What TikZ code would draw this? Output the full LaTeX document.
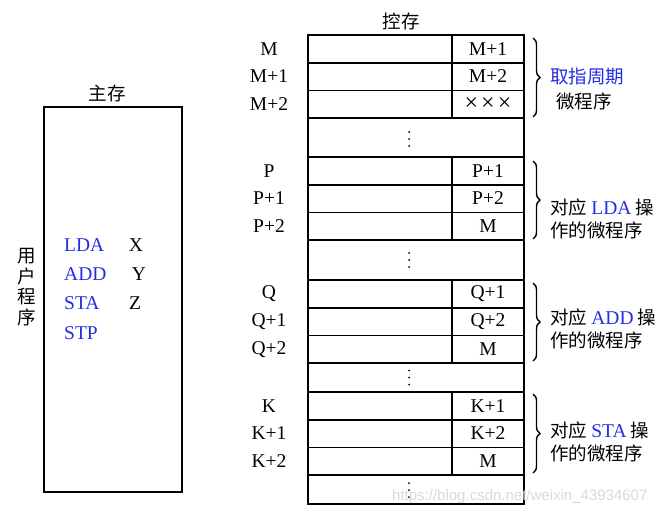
\documentclass[tikz,border=0pt]{standalone}
\usepackage{fontspec}
\setmainfont{Liberation Serif}
\newfontfamily\cjk{Noto Sans CJK SC}
\newfontfamily\wmfont{Liberation Sans}
\usetikzlibrary{decorations.pathreplacing}
\definecolor{ablue}{RGB}{35,45,225}
\begin{document}
\begin{tikzpicture}[x=1pt,y=-1pt,
  box/.style={line width=1.8pt},
  lab/.style={font=\fontsize{19.5}{21}\selectfont, inner sep=0pt},
  zh/.style={font=\cjk\fontsize{18.5}{20}\selectfont, inner sep=0pt},
  brc/.style={decorate, decoration={brace, amplitude=7pt}, line width=1.4pt},
  op/.style={lab, text=ablue, anchor=west},
  dotf/.style={fill=black, draw=none}
]
\useasboundingbox (0,0) rectangle (672,514);
% main memory
\draw[box] (44,107) rectangle (182,492);
\node[zh] (zhucun) at (107,93) {主存};
\node[zh, align=center, font=\cjk\fontsize{18.5}{20.5}\selectfont] (yhcx) at (27,287) {用\\户\\程\\序};
\node[op] (lda) at (64,245) {LDA};
\node[op] (add) at (64,274) {ADD};
\node[op] (sta) at (64,303) {STA};
\node[op] (stp) at (64,333) {STP};
\node[lab] (x) at (136,245) {X};
\node[lab] (y) at (139,274) {Y};
\node[lab] (z) at (135,303) {Z};
% control memory
\node[zh] (kongcun) at (401,21) {控存};
\draw[box] (308,35) rectangle (524,504);
\foreach \bl/\t/\ra/\rb/\rc in {M/35/M+1/M+2/{{\fontsize{24}{24}\selectfont×\kern3pt×\kern3pt×}}, P/157/P+1/P+2/M, Q/280/Q+1/Q+2/M, K/392/K+1/K+2/M}{
  \draw[box] (308,\t) -- (524,\t);
  \draw[box] (308,\t+27.7) -- (524,\t+27.7);
  \draw[box] (308,\t+55.4) -- (524,\t+55.4);
  \draw[box] (308,\t+83.1) -- (524,\t+83.1);
  \draw[box] (452,\t) -- (452,\t+83.1);
  \node[lab] (\bl-l0) at (269,\t+14) {\bl};
  \node[lab] (\bl-l1) at (269,\t+41.5) {\bl+1};
  \node[lab] (\bl-l2) at (269,\t+69.2) {\bl+2};
  \node[lab] (\bl-r0) at (488,\t+14) {\ra};
  \node[lab] (\bl-r1) at (488,\t+41.5) {\rb};
  \node[lab] (\bl-r2) at (488,\t+69.2) {\rc};
}
\foreach \yy in {139, 260, 377.5, 490}{
  \fill[dotf] (409,\yy-7) circle (1pt);
  \fill[dotf] (409,\yy) circle (1pt);
  \fill[dotf] (409,\yy+7) circle (1pt);
}
% braces
\draw[brc] (533,38) -- (533,117);
\draw[brc] (533,161) -- (533,239);
\draw[brc] (533,283) -- (533,361);
\draw[brc] (533,394) -- (533,473);
\node[zh, anchor=west, text=ablue] (qz) at (550,77) {取指周期};
\node[zh, anchor=west] (wcx) at (556,101) {微程序};
\node[zh, anchor=west] (p1) at (550,207) {对应 {\rmfamily\fontsize{19.5}{20}\selectfont\color{ablue}LDA} 操};
\node[zh, anchor=west] (p2) at (550,230) {作的微程序};
\node[zh, anchor=west] (q1) at (550,317) {对应 {\rmfamily\fontsize{19.5}{20}\selectfont\color{ablue}ADD} 操};
\node[zh, anchor=west] (q2) at (550,340) {作的微程序};
\node[zh, anchor=west] (k1) at (550,430) {对应 {\rmfamily\fontsize{19.5}{20}\selectfont\color{ablue}STA} 操};
\node[zh, anchor=west] (k2) at (550,453) {作的微程序};
% watermark
\node[anchor=west, inner sep=0pt, text=black!15, font=\wmfont\fontsize{15}{15}\selectfont] (wm) at (392,497) {https://blog.csdn.net/weixin\_43934607};
\end{tikzpicture}
\end{document}
